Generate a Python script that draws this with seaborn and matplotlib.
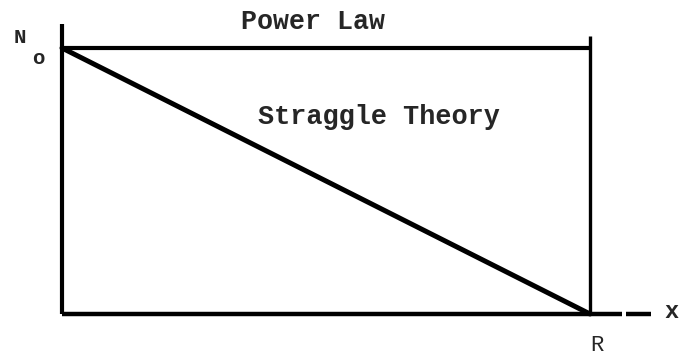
"""
Power law vs straggle theory sketch: number of particles N(x) against
penetration depth x, with N0 at the surface and range R.
"""

import matplotlib
matplotlib.use("Agg")
import matplotlib.pyplot as plt
import pandas as pd
import seaborn as sns

# ---------------------------------------------------------------------------
# Data (normalised units: N0 = 1, R = 1)
# ---------------------------------------------------------------------------
N0 = 1.0
R = 1.0
depth = [0.0, R]
power_law = [N0, N0]
straggle = [N0, 0.0]

labels = {"power": "Power Law", "straggle": "Straggle Theory"}

sns.set_theme(style="white")
plt.rcParams["font.family"] = ["Liberation Mono", "DejaVu Sans Mono"]

df = pd.DataFrame({
    "x": depth * 2,
    "N": power_law + straggle,
    "curve": [labels["power"]] * 2 + [labels["straggle"]] * 2,
})

fig = plt.figure(figsize=(6.81, 3.59), dpi=100)
ax = fig.add_axes([0, 0, 1, 1])

sns.lineplot(data=df[df.curve == labels["power"]], x="x", y="N", ax=ax,
             color="black", linewidth=3.0, legend=False)
sns.lineplot(data=df[df.curve == labels["straggle"]], x="x", y="N", ax=ax,
             color="black", linewidth=3.6, legend=False)

# axes drawn by hand, like the original sketch
ax.plot([0, 0], [0, 1.09], color="black", linewidth=3.0, solid_capstyle="butt")
ax.plot([0, 1.06], [0, 0], color="black", linewidth=3.2, solid_capstyle="butt")
ax.plot([1.068, 1.115], [0, 0], color="black", linewidth=3.2, solid_capstyle="butt")
ax.plot([R, R], [0, 1.045], color="black", linewidth=2.4, solid_capstyle="butt")

txt = dict(ha="center", va="center", fontweight="bold")
ax.text(0.475, 1.098, labels["power"], fontsize=19.2, **txt)
ax.text(0.600, 0.740, labels["straggle"], fontsize=19.4, **txt)
ax.text(-0.0795, 1.041, "N", fontsize=15, **txt)
ax.text(-0.045, 0.962, "o", fontsize=15, **txt)
ax.text(1.013, -0.117, "R", fontsize=16, ha="center", va="center")
ax.text(1.155, 0.008, "x", fontsize=17, **txt)

ax.set_xlim(-62 / 528, 619 / 528)
ax.set_ylim(-45 / 266, 314 / 266)
ax.set_axis_off()

fig.savefig("out.png", dpi=100)
